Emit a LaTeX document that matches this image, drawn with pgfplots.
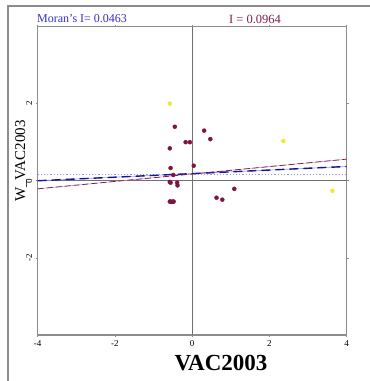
\documentclass[border=0pt]{standalone}
\usepackage{fontspec}
\setmainfont{Liberation Serif}
\usepackage{pgfplots}
\pgfplotsset{compat=1.18}
\definecolor{frame}{RGB}{140,140,140}
\definecolor{pt}{RGB}{125,20,65}
\definecolor{yel}{RGB}{240,235,40}
\definecolor{bluetxt}{RGB}{50,50,200}
\definecolor{redtxt}{RGB}{130,30,80}
\definecolor{dblue}{RGB}{20,20,150}
\definecolor{lblue}{RGB}{150,150,235}
\definecolor{dred}{RGB}{110,25,75}
\definecolor{lred}{RGB}{230,150,190}
\begin{document}
\begin{tikzpicture}
\path[use as bounding box] (0,0) rectangle (370pt,381pt);
\fill[white] (0,0) rectangle (370pt,381pt);
\draw[frame, line width=1.5pt] (8pt,0) -- (8pt,375pt) -- (370pt,375pt);
\begin{axis}[
  at={(37.7pt,46pt)}, anchor=south west,
  scale only axis, width=309pt, height=308.5pt,
  xmin=-4, xmax=4, ymin=-4, ymax=4,
  xtick={-4,-2,0,2,4}, ytick={-2,0,2},
  axis line style={frame, line width=1.5pt},
  tick style={frame, line width=0.6pt},
  major tick length=2pt, tick align=outside,
  tick label style={font=\fontsize{9}{9}\selectfont},
  /pgf/number format/assume math mode=true,
  yticklabel style={rotate=90, anchor=south, xshift=0pt},
  clip=true,
]
\addplot[frame!80!black, line width=0.8pt] coordinates {(-4,0) (4,0)};
\addplot[frame!80!black, line width=0.8pt] coordinates {(0,-4) (0,4)};
\addplot[lblue, dotted, line width=1.2pt] coordinates {(-4,0.17) (4,0.17)};
\addplot[lred, line width=0.6pt] coordinates {(-4,-0.21) (4,0.56)};
\addplot[lblue, line width=0.6pt] coordinates {(-4,0.0) (4,0.37)};
\addplot[dblue, line width=1.4pt, dash pattern=on 9pt off 5pt] coordinates {(-4,0.0) (4,0.37)};
\addplot[dred, line width=0.7pt, dash pattern=on 6pt off 3pt] coordinates {(-4,-0.21) (4,0.56)};
\addplot[only marks, mark=*, mark size=2pt, pt] coordinates {
(-0.45,1.40) (0.31,1.30) (0.47,1.08) (-0.17,1.0) (-0.06,1.0)
(-0.58,0.84) (-0.56,0.33) (0.04,0.39) (-0.49,0.15) (-0.58,-0.03)
(-0.56,-0.05) (-0.39,-0.05) (-0.38,-0.12) (-0.58,-0.54) (-0.56,-0.54)
(-0.53,-0.55) (-0.50,-0.54) (-0.48,-0.54) (0.63,-0.44) (0.78,-0.49)
(1.09,-0.21)
};
\addplot[only marks, mark=*, mark size=2pt, yel] coordinates {
(-0.58,2.0) (2.36,1.03) (3.63,-0.26)
};
\end{axis}
\node[anchor=west, text=bluetxt, font=\fontsize{12}{12}\selectfont, inner sep=0pt] at (37pt,362pt) {Moran's I= 0.0463};
\node[text=redtxt, font=\fontsize{12.5}{12.5}\selectfont, inner sep=0pt] at (255pt,362pt) {I = 0.0964};
\node[font=\fontsize{23}{23}\selectfont\bfseries, inner sep=0pt] at (221pt,17.5pt) {VAC2003};
\node[rotate=90, font=\fontsize{15}{15}\selectfont, inner sep=0pt] at (21pt,220pt) {W\_VAC2003};
\end{tikzpicture}
\end{document}
